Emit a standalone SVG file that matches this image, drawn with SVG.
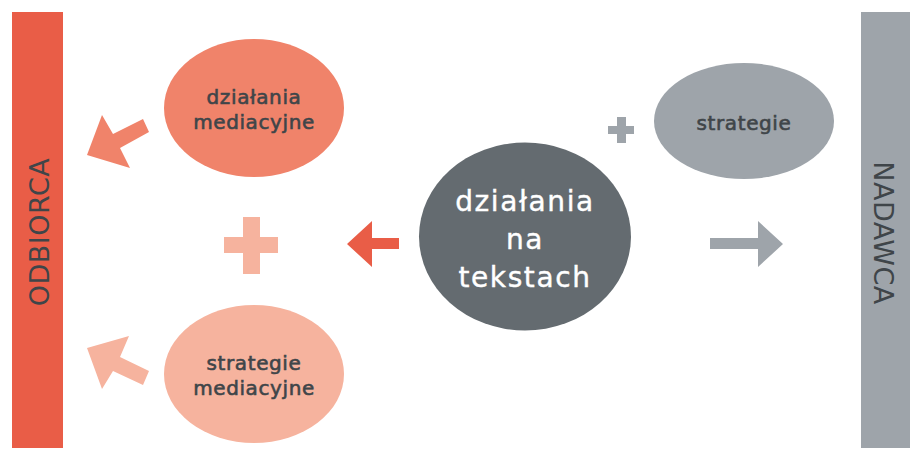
<svg xmlns="http://www.w3.org/2000/svg" width="910" height="449" viewBox="0 0 910 449">
<style>
text{font-family:"DejaVu Sans","Liberation Sans",sans-serif;text-anchor:middle}
.lbl{font-size:20px;fill:#3f4549;stroke:#3f4549;stroke-width:0.6px;letter-spacing:0.6px}
.big{font-size:28px;fill:#ffffff;stroke:#ffffff;stroke-width:0.4px;letter-spacing:1.6px}
.side{font-size:27px;fill:#3f4549;letter-spacing:0.5px}
</style>
<rect width="910" height="449" fill="#ffffff"/>
<g id="odbiorca">
<rect x="12" y="12" width="51" height="436" fill="#e95d47"/>
<text class="side" transform="translate(49,232) rotate(-90)">ODBIORCA</text>
</g>
<g id="nadawca">
<rect x="861" y="12" width="49" height="436" fill="#9ea4aa"/>
<text class="side" transform="translate(874,233) rotate(90)">NADAWCA</text>
</g>
<g id="dzialania-mediacyjne">
<ellipse cx="254" cy="108" rx="90" ry="69" fill="#f0836a"/>
<text class="lbl" x="254" y="104">działania</text>
<text class="lbl" x="254" y="129">mediacyjne</text>
</g>
<g id="strategie-mediacyjne">
<ellipse cx="254" cy="374" rx="90" ry="69" fill="#f6b39e"/>
<text class="lbl" x="254" y="370">strategie</text>
<text class="lbl" x="254" y="395">mediacyjne</text>
</g>
<g id="dzialania-na-tekstach">
<ellipse cx="525" cy="236.5" rx="106" ry="94" fill="#646b70"/>
<text class="big" x="525" y="211">działania</text>
<text class="big" x="525" y="249">na</text>
<text class="big" x="525" y="287">tekstach</text>
</g>
<g id="strategie">
<ellipse cx="744" cy="121" rx="90" ry="58" fill="#9ea4aa"/>
<text class="lbl" x="744" y="130">strategie</text>
</g>
<g id="plus-pink">
<path d="M243 217h17v20h18v16h-18v21h-17v-21h-19v-16h19z" fill="#f6b39e"/>
</g>
<g id="plus-gray">
<path d="M617 117h9v9h8v8h-8v9h-9v-9h-9v-8h9z" fill="#9ea4aa"/>
</g>
<g id="connectors">
<polygon points="87,155 102,115 113,134 143,119 149,132 120,148 130,168" fill="#f0836a"/>
<polygon points="87,348 129,336 120,357 149,371 143,385 113,371 102,389" fill="#f6b39e"/>
<polygon points="347,244 372,221 372,238 399,238 399,249 372,249 372,267" fill="#e95d47"/>
<polygon points="783,244 758,221 758,238 710,238 710,249 758,249 758,267" fill="#9ea4aa"/>
</g>
</svg>
